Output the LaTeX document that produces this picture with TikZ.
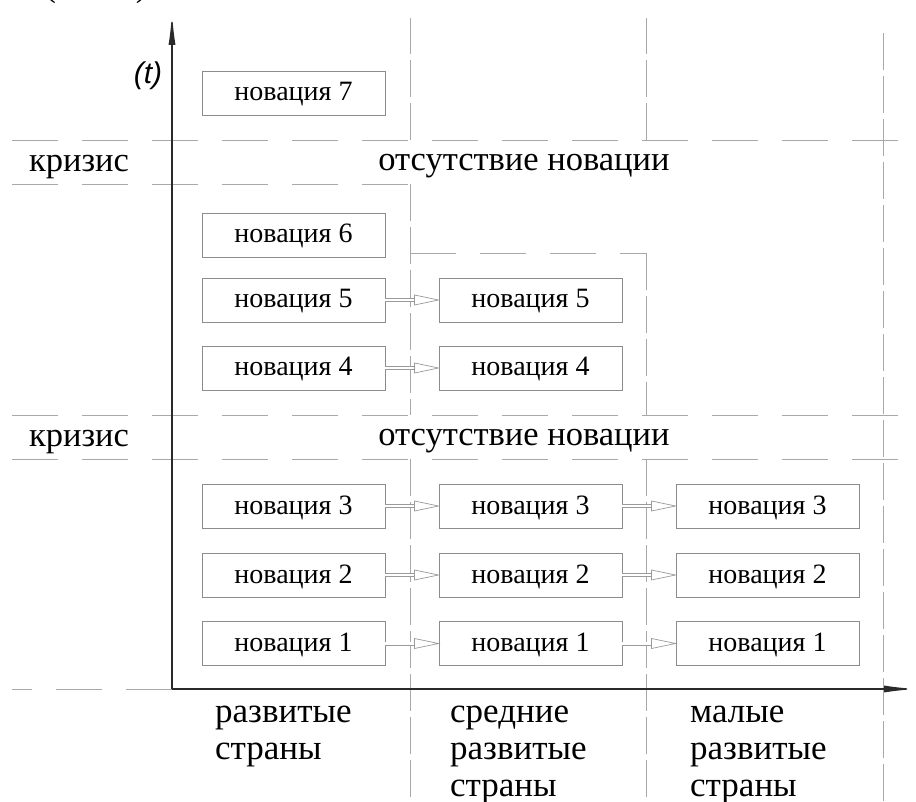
\documentclass[tikz,border=0pt]{standalone}
\usepackage{fontspec}
\setmainfont{Liberation Serif}
\newfontfamily\axisfont{Liberation Sans}
\newfontfamily\labfont{Liberation Serif}
\usetikzlibrary{arrows.meta}
\definecolor{dashgray}{HTML}{A8A8A8}
\definecolor{boxgray}{HTML}{8C8C8C}
\definecolor{arrgray}{HTML}{9A9A9A}
\definecolor{axisdark}{HTML}{2A2A2A}
\tikzset{
  dashline/.style={draw=dashgray, line width=0.9pt, dash pattern=on 46pt off 24pt},
  vdashline/.style={draw=dashgray, line width=0.9pt, dash pattern=on 37pt off 6pt},
  novbox/.style={draw=boxgray, line width=0.9pt, minimum width=183pt, minimum height=44pt,
    inner sep=0pt, text height=18pt, text depth=2pt, font=\labfont\fontsize{28}{30}\selectfont},
  biglabel/.style={inner sep=0pt, anchor=base, font=\labfont\fontsize{34.5}{36}\selectfont},
  collabel/.style={inner sep=0pt, anchor=north west, align=left, font=\labfont\fontsize{35}{37}\selectfont},
  axisline/.style={draw=axisdark, line width=1.3pt},
  axistip/.style={-{Latex[length=32pt,width=7pt]}},
  shaft/.style={draw=arrgray, line width=0.7pt, double=white, double distance=2.6pt},
  tiphead/.style={draw=arrgray, line width=0.7pt, fill=white},
}
\newcommand\novarrow[2]{%
  \draw[shaft] (#1.east) -- ([xshift=-24pt]#2.west);
  \draw[tiphead] ([xshift=-24pt,yshift=5pt]#2.west) -- (#2.west) -- ([xshift=-24pt,yshift=-5pt]#2.west) -- cycle;}
\begin{document}
\begin{tikzpicture}[x=1pt,y=-1pt]
\useasboundingbox (0,0) rectangle (916,802);
% dashed grid
\draw[dashline] (12,140) -- (902,140);
\draw[dashline] (12,184) -- (410,184);
\draw[dashline] (410,253) -- (646,253);
\draw[dashline] (12,415) -- (902,415);
\draw[dashline] (12,459) -- (902,459);
\draw[dashline] (172,689) -- (12,689);
\draw[vdashline] (410,140) -- (410,18);
\draw[vdashline] (410,184) -- (410,415);
\draw[vdashline] (410,459) -- (410,802);
\draw[vdashline] (646,140) -- (646,18);
\draw[vdashline] (646,253) -- (646,415);
\draw[vdashline] (646,459) -- (646,802);
\draw[vdashline] (883,33) -- (883,802);
% axes
\coordinate (o) at (172,689);
\coordinate (ytop) at (172,13);
\coordinate (xend) at (916,689);
\draw[axisline, axistip] (o) -- (ytop);
\draw[axisline, axistip] (o) -- (xend);
\node[inner sep=0pt, font=\axisfont\itshape\fontsize{30}{32}\selectfont] (tlab) at (148,76) {(t)};
\node[inner sep=0pt, anchor=base, font=\labfont\fontsize{34}{36}\selectfont] (toplab) at (96,-3) {(\hspace{80pt})};
% crisis bands
\node[biglabel] (k1) at (79,172) {кризис};
\node[biglabel] (a1) at (524,171) {отсутствие новации};
\node[biglabel] (k2) at (79,446) {кризис};
\node[biglabel] (a2) at (524,445) {отсутствие новации};
% boxes
\node[novbox] (n7) at (293.5,93) {новация 7};
\node[novbox] (n6) at (293.5,235) {новация 6};
\node[novbox] (n5a) at (293.5,300) {новация 5};
\node[novbox] (n5b) at (530.5,300) {новация 5};
\node[novbox] (n4a) at (293.5,368) {новация 4};
\node[novbox] (n4b) at (530.5,368) {новация 4};
\node[novbox] (n3a) at (293.5,506) {новация 3};
\node[novbox] (n3b) at (530.5,506) {новация 3};
\node[novbox] (n3c) at (767.5,506) {новация 3};
\node[novbox] (n2a) at (293.5,575) {новация 2};
\node[novbox] (n2b) at (530.5,575) {новация 2};
\node[novbox] (n2c) at (767.5,575) {новация 2};
\node[novbox] (n1a) at (293.5,643.5) {новация 1};
\node[novbox] (n1b) at (530.5,643.5) {новация 1};
\node[novbox] (n1c) at (767.5,643.5) {новация 1};
% arrows
\novarrow{n5a}{n5b}
\novarrow{n4a}{n4b}
\novarrow{n3a}{n3b}
\novarrow{n3b}{n3c}
\novarrow{n2a}{n2b}
\novarrow{n2b}{n2c}
\novarrow{n1a}{n1b}
\novarrow{n1b}{n1c}
% column labels
\node[collabel] (c1) at (215,706) {развитые\\страны};
\node[collabel] (c2) at (450,706) {средние\\развитые\\страны};
\node[collabel] (c3) at (690,706) {малые\\развитые\\страны};
\end{tikzpicture}
\end{document}
